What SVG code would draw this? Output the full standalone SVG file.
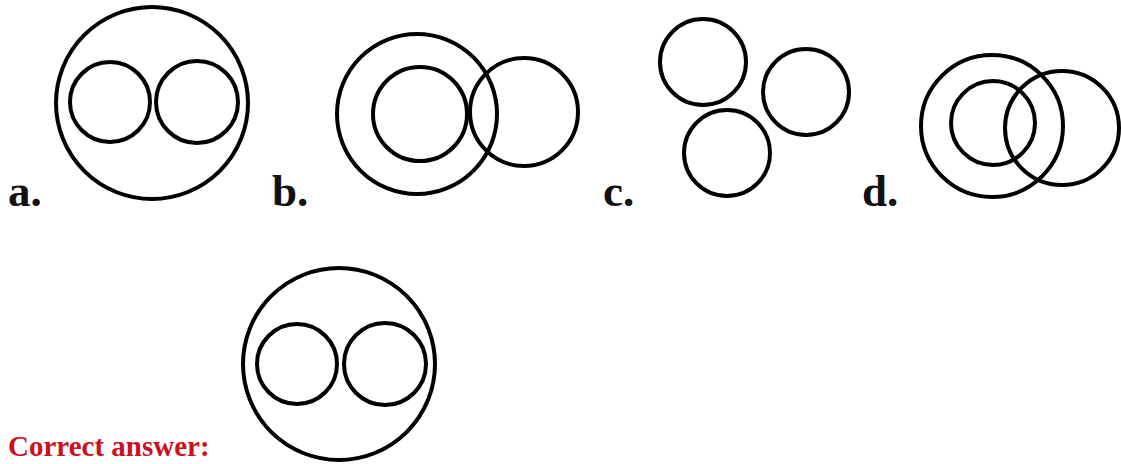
<svg xmlns="http://www.w3.org/2000/svg" width="1121" height="464" viewBox="0 0 1121 464">
<style>
.c{fill:none;stroke:#000;stroke-width:4}
.l{font-family:"Liberation Serif","Times New Roman",serif;font-weight:bold;font-size:45px;fill:#111}
.ans{font-family:"Liberation Serif","Times New Roman",serif;font-weight:bold;font-size:29px;fill:#cc1020}
</style>
<rect width="1121" height="464" fill="#fff"/>
<g id="option-a">
<circle class="c" cx="152" cy="103" r="96"/>
<circle class="c" cx="110" cy="102" r="40"/>
<circle class="c" cx="197" cy="102" r="41"/>
<text class="l" x="8" y="206">a.</text>
</g>
<g id="option-b">
<circle class="c" cx="417" cy="114" r="80"/>
<circle class="c" cx="420" cy="114" r="47"/>
<circle class="c" cx="524" cy="112" r="54"/>
<text class="l" x="272" y="206">b.</text>
</g>
<g id="option-c">
<circle class="c" cx="703" cy="62" r="43"/>
<circle class="c" cx="806" cy="92" r="43"/>
<circle class="c" cx="727" cy="153" r="43"/>
<text class="l" x="603" y="206">c.</text>
</g>
<g id="option-d">
<circle class="c" cx="992" cy="126" r="71"/>
<circle class="c" cx="993" cy="123" r="42"/>
<circle class="c" cx="1062" cy="128" r="57"/>
<text class="l" x="862" y="206">d.</text>
</g>
<g id="answer">
<circle class="c" cx="339" cy="364" r="96"/>
<circle class="c" cx="297" cy="364" r="40"/>
<circle class="c" cx="385" cy="364" r="41"/>
<text class="ans" x="8" y="456">Correct answer:</text>
</g>
</svg>
